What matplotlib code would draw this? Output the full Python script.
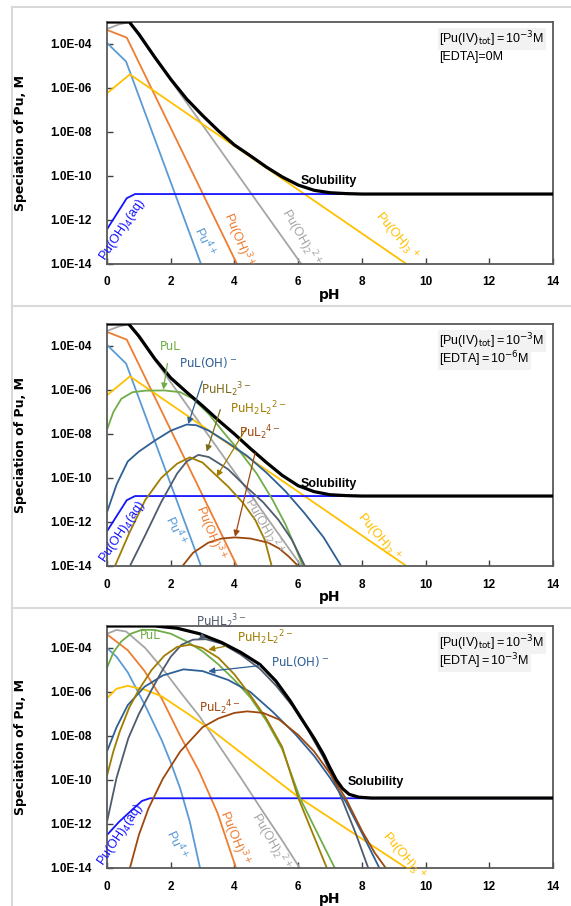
import numpy as np
import matplotlib.pyplot as plt
from matplotlib.ticker import FixedLocator, FuncFormatter, NullLocator
from matplotlib.lines import Line2D

# values: pH and log10 of concentration [M]

# ---- panel 1 / 2 : inorganic Pu species (same in both panels)
pu4_ph = [0, 0.6, 2.95]
pu4_log = [-3.95, -4.8, -14]
puoh_ph = [0, 0.62, 4.08]
puoh_log = [-3.36, -3.71, -14]
puoh2_ph = [0, 0.35, 0.7, 6.1]
puoh2_log = [-3.32, -3.12, -3.0, -14]
puoh3_ph = [0, 0.72, 9.4]
puoh3_log = [-6.24, -5.38, -14]
puoh4_ph = [0, 0.62, 0.88, 14]
puoh4_log = [-12.42, -11.01, -10.82, -10.82]

# ---- panel 1 : solubility, EDTA = 0
sol1_ph = [0, 0.7, 1.0, 1.5, 2.0, 2.5, 3.0, 3.5, 4.0, 4.5, 5.0, 5.5, 6.0, 6.5, 7.0, 7.5, 8.0, 14]
sol1_log = [-3, -3, -3.55, -4.6, -5.6, -6.5, -7.25, -7.95, -8.59, -9.08, -9.59, -10.04, -10.41,
            -10.65, -10.76, -10.8, -10.82, -10.82]

# ---- panel 2 : EDTA = 1e-6 M
sol2_ph = [0, 0.68, 1.0, 1.5, 2.0, 2.5, 3.0, 3.5, 4.0, 4.5, 5.0, 5.5, 6.0, 6.5, 7.0, 7.5, 8.0, 14]
sol2_log = [-3, -3, -3.55, -4.58, -5.45, -6.1, -6.72, -7.38, -8.0, -8.66, -9.29, -9.88, -10.35,
            -10.62, -10.76, -10.8, -10.82, -10.82]
pul2_ph = [0, 0.2, 0.45, 0.8, 1.2, 1.8, 2.3, 2.7, 3.2, 3.7, 4.2, 4.7, 5.2, 5.6, 5.9, 6.15]
pul2_log = [-7.8, -7.0, -6.4, -6.1, -6.03, -6.02, -6.1, -6.4, -7.1, -8.0, -8.85, -9.8, -11.0,
            -12.1, -13.1, -14]
puloh2_ph = [0, 0.3, 0.65, 1.0, 1.5, 2.0, 2.5, 2.8, 3.2, 3.8, 4.4, 5.0, 5.6, 6.2, 6.8, 7.35]
puloh2_log = [-11.55, -10.3, -9.25, -8.8, -8.3, -7.85, -7.57, -7.6, -7.85, -8.4, -9.0, -9.75,
              -10.6, -11.6, -12.7, -14]
puhl2_ph = [0.72, 1.2, 1.7, 2.2, 2.5, 2.87, 3.2, 3.8, 4.33, 4.9, 5.38, 5.8, 6.21]
puhl2_log = [-14, -12.6, -11.1, -9.8, -9.25, -8.95, -9.05, -9.6, -10.35, -11.1, -11.9, -12.8, -14]
puh2l2_ph = [0.25, 0.7, 1.2, 1.7, 2.2, 2.6, 3.0, 3.44, 3.81, 4.25, 4.65, 4.95, 5.17]
puh2l2_log = [-14, -12.5, -11.0, -10.0, -9.35, -9.06, -9.3, -9.9, -10.4, -11.1, -11.9, -12.8, -14]
pul22_ph = [2.37, 2.7, 3.18, 3.6, 4.02, 4.5, 5.06, 5.4, 5.69, 6.0]
pul22_log = [-14, -13.4, -12.94, -12.75, -12.7, -12.75, -12.94, -13.2, -13.55, -14]

# ---- panel 3 : EDTA = 1e-3 M
sol3_ph = [0, 1.5, 2.2, 2.9, 3.6, 4.2, 4.8, 5.3, 5.75, 6.1, 6.5, 6.8, 7.0, 7.2, 7.4, 7.6, 7.9, 8.3, 14]
sol3_log = [-3, -3.0, -3.1, -3.35, -3.75, -4.2, -4.75, -5.5, -6.4, -7.2, -8.1, -8.85, -9.45,
            -10.0, -10.4, -10.65, -10.78, -10.82, -10.82]
pu4_3_ph = [0, 0.3, 0.65, 1.2, 1.72, 2.0, 2.3, 2.6, 2.92]
pu4_3_log = [-4.0, -4.4, -5.1, -6.62, -8.2, -9.2, -10.4, -11.9, -14]
puoh_3_ph = [0, 0.65, 1.18, 1.72, 2.3, 2.89, 3.47, 4.05]
puoh_3_log = [-3.38, -4.1, -5.05, -6.3, -8.0, -9.6, -11.5, -14]
puoh2_3_ph = [0, 0.3, 0.6, 1.2, 1.75, 2.3, 2.9, 3.5, 4.2, 4.9, 5.5, 6.05]
puoh2_3_log = [-3.35, -3.18, -3.25, -4.0, -4.95, -6.0, -7.1, -8.4, -9.9, -11.45, -12.75, -14]
puoh3_3_ph = [0, 0.3, 0.65, 1.2, 1.72, 2.55, 3.3, 6.06, 9.4]
puoh3_3_log = [-6.28, -5.85, -5.72, -5.9, -6.2, -7.0, -7.75, -10.83, -14]
puoh4_3_ph = [0, 0.38, 0.83, 1.1, 1.35, 14]
puoh4_3_log = [-12.5, -11.9, -11.3, -10.95, -10.83, -10.83]
pul3_ph = [0, 0.2, 0.45, 0.75, 1.1, 1.5, 2.0, 2.5, 3.0, 3.5, 4.0, 4.5, 5.0, 5.5, 6.06, 6.6, 7.15]
pul3_log = [-4.9, -4.2, -3.7, -3.35, -3.17, -3.18, -3.35, -3.7, -4.15, -4.75, -5.45, -6.25,
            -7.3, -8.6, -10.83, -12.4, -14]
puloh3_ph = [0, 0.3, 0.65, 1.18, 1.75, 2.4, 3.0, 3.8, 4.5, 5.2, 5.9, 6.5, 7.0, 7.5, 8.0, 8.55]
puloh3_log = [-8.7, -7.6, -6.6, -5.76, -5.25, -4.97, -5.05, -5.45, -6.0, -6.9, -7.9, -8.9, -9.9,
              -11.0, -12.4, -14]
puhl3_ph = [0, 0.3, 0.67, 1.0, 1.4, 1.72, 2.0, 2.34, 2.7, 3.1, 3.6, 4.2, 4.8, 5.3, 5.8, 6.3,
            6.8, 7.3, 7.8, 8.2]
puhl3_log = [-11.9, -9.9, -8.1, -7.0, -5.9, -5.06, -4.4, -3.85, -3.62, -3.6, -3.8, -4.3, -4.95,
             -5.7, -6.6, -7.7, -9.0, -10.6, -12.4, -14]
puh2l3_ph = [0, 0.2, 0.4, 0.7, 1.0, 1.4, 1.8, 2.2, 2.6, 3.0, 3.5, 4.0, 4.5, 5.0, 5.5, 6.0, 6.45, 6.9]
puh2l3_log = [-9.8, -8.7, -7.8, -6.7, -5.9, -5.0, -4.35, -3.95, -3.85, -4.0, -4.45, -5.2, -6.15,
              -7.2, -8.5, -10.8, -12.4, -14]
pul23_ph = [0.72, 1.0, 1.3, 1.75, 2.3, 3.0, 3.5, 4.0, 4.4, 4.9, 5.4, 6.0, 6.5, 7.0, 7.5, 8.0, 8.4, 8.75]
pul23_log = [-14, -12.5, -11.3, -9.95, -8.7, -7.6, -7.2, -6.95, -6.88, -6.95, -7.25, -7.95, -8.7,
             -9.7, -10.85, -12.3, -13.3, -14]

ytick_vals = [1e-4, 1e-6, 1e-8, 1e-10, 1e-12, 1e-14]
xtick_vals = [0, 2, 4, 6, 8, 10, 12, 14]

C_PU4 = '#5B9BD5'
C_PUOH = '#ED7D31'
C_PUOH2 = '#A5A5A5'
C_PUOH3 = '#FFC000'
C_PUOH4 = '#1414FF'
C_PUL = '#70AD47'
C_PULOH = '#2E6095'
C_PUHL = '#4F5B6E'
C_PUH2L = '#A07D00'
C_PUL2 = '#9E480E'

NARROW = 'Liberation Sans'


def curve(ax, ph, lg, color, lw=1.3, z=2):
    ax.plot(ph, 10.0 ** np.array(lg), color=color, lw=lw, zorder=z, solid_capstyle='butt')


def tag(ax, x, lg, s, color, rot=0, size=9, family=NARROW, weight='normal'):
    ax.text(x, 10.0 ** lg, s, color=color, rotation=rot, fontsize=size, family=family,
            weight=weight, ha='center', va='center', rotation_mode='anchor', clip_on=False, zorder=6)


def arrow(ax, s, xy_text, xy_head, color, size=8.5):
    ax.annotate(s, xy=(xy_head[0], 10.0 ** xy_head[1]), xytext=(xy_text[0], 10.0 ** xy_text[1]),
                color=color, fontsize=size, family='DejaVu Sans', ha='center', va='center',
                annotation_clip=False, zorder=6,
                arrowprops=dict(arrowstyle='-|>', color=color, lw=0.9, mutation_scale=9,
                                shrinkA=6, shrinkB=0))


def setup(ax, line1, line2, boxed_both=True):
    ax.set_yscale('log')
    ax.set_xlim(0, 14)
    ax.set_ylim(1e-14, 1e-3)
    ax.xaxis.set_major_locator(FixedLocator(xtick_vals))
    ax.yaxis.set_major_locator(FixedLocator(ytick_vals))
    ax.yaxis.set_minor_locator(NullLocator())
    ax.yaxis.set_major_formatter(FuncFormatter(lambda v, p: f'{v:.1E}'))
    ax.tick_params(direction='in', length=4, width=1, color='#404040')
    ax.tick_params(axis='x', pad=9)
    ax.tick_params(axis='y', pad=11)
    for lab in ax.get_xticklabels() + ax.get_yticklabels():
        lab.set_family('Liberation Sans')
        lab.set_fontweight('bold')
        lab.set_fontsize(8.5)
    for sp in ax.spines.values():
        sp.set_color('#595959')
        sp.set_linewidth(1.3)
    ax.set_xlabel('pH', fontsize=10, fontweight='bold', family='DejaVu Sans')
    ax.xaxis.set_label_coords(0.5, -0.1)
    ax.set_ylabel('Speciation of Pu, M', fontsize=9, fontweight='bold', family='DejaVu Sans')
    ax.yaxis.set_label_coords(-0.18, 0.5)
    ax.text(0.745, 0.93, line1, transform=ax.transAxes, fontsize=9, family=NARROW,
            va='center', ha='left', zorder=7,
            bbox=dict(boxstyle='square,pad=0.12', fc='#F2F2F2', ec='none'))
    ax.text(0.745, 0.855, line2, transform=ax.transAxes, fontsize=9, family=NARROW,
            va='center', ha='left', zorder=7,
            bbox=dict(boxstyle='square,pad=0.12', fc='#F2F2F2' if boxed_both else 'none', ec='none'))


def inorganic_labels(ax, pos):
    tag(ax, pos[0][0], pos[0][1], r'Pu(OH)$_4$(aq)', C_PUOH4, 56, 9)
    tag(ax, pos[1][0], pos[1][1], r'Pu$^{4+}$', C_PU4, -65, 9)
    tag(ax, pos[2][0], pos[2][1], r'Pu(OH)$^{3+}$', C_PUOH, -68, 9)
    tag(ax, pos[3][0], pos[3][1], r'Pu(OH)$_2$$^{2+}$', C_PUOH2, -60, 9)
    tag(ax, pos[4][0], pos[4][1], r'Pu(OH)$_3$$^+$', C_PUOH3, -50, 9)
    tag(ax, pos[5][0], pos[5][1], 'Solubility', 'black', 0, 9, weight='bold')


fig = plt.figure(figsize=(5.71, 9.06), dpi=100)

# light grey panel frames
def fline(x0, y0, x1, y1):
    fig.add_artist(Line2D([x0 / 571, x1 / 571], [1 - y0 / 906, 1 - y1 / 906],
                          color='#D9D9D9', lw=1.5, transform=fig.transFigure))

fline(12, 7, 12, 906)
fline(12, 7, 571, 7)
fline(12, 306, 571, 306)
fline(12, 608, 571, 608)

W = 446 / 571
H = 242 / 906
ax1 = fig.add_axes([107 / 571, 1 - 264 / 906, W, H])
ax2 = fig.add_axes([107 / 571, 1 - 566 / 906, W, H])
ax3 = fig.add_axes([107 / 571, 1 - 868 / 906, W, H])

HEAD = r'[Pu(IV)$_{\rm tot}$]$\,$=$\,$10$^{-3}$M'

# ---- panel 1
setup(ax1, HEAD, '[EDTA]=0M', boxed_both=False)
curve(ax1, pu4_ph, pu4_log, C_PU4)
curve(ax1, puoh_ph, puoh_log, C_PUOH)
curve(ax1, puoh2_ph, puoh2_log, C_PUOH2)
curve(ax1, puoh3_ph, puoh3_log, C_PUOH3)
curve(ax1, puoh4_ph, puoh4_log, C_PUOH4)
curve(ax1, sol1_ph, sol1_log, 'black', lw=2.3, z=3)
inorganic_labels(ax1, [(0.5, -12.45), (3.08, -13.0), (4.12, -12.9), (6.06, -12.8),
                       (9.07, -12.75), (6.95, -10.25)])

# ---- panel 2
setup(ax2, HEAD, r'[EDTA]$\,$=$\,$10$^{-6}$M')
curve(ax2, pu4_ph, pu4_log, C_PU4)
curve(ax2, puoh_ph, puoh_log, C_PUOH)
curve(ax2, puoh2_ph, puoh2_log, C_PUOH2)
curve(ax2, puoh3_ph, puoh3_log, C_PUOH3)
curve(ax2, puoh4_ph, puoh4_log, C_PUOH4)
curve(ax2, pul2_ph, pul2_log, C_PUL)
curve(ax2, puloh2_ph, puloh2_log, C_PULOH)
curve(ax2, puhl2_ph, puhl2_log, C_PUHL)
curve(ax2, puh2l2_ph, puh2l2_log, C_PUH2L)
curve(ax2, pul22_ph, pul22_log, C_PUL2)
curve(ax2, sol2_ph, sol2_log, 'black', lw=2.3, z=3)
inorganic_labels(ax2, [(0.5, -12.45), (2.15, -12.4), (3.24, -12.5), (4.9, -12.2),
                       (8.5, -12.7), (6.95, -10.25)])
arrow(ax2, 'PuL', (1.98, -4.0), (1.77, -5.98), C_PUL)
arrow(ax2, r'PuL(OH)$^-$', (3.18, -4.77), (2.55, -7.55), C_PULOH)
arrow(ax2, r'PuHL$_2$$^{3-}$', (3.76, -5.98), (3.13, -8.8), '#7F6A1A')
arrow(ax2, r'PuH$_2$L$_2$$^{2-}$', (4.75, -6.85), (3.44, -9.94), C_PUH2L)
arrow(ax2, r'PuL$_2$$^{4-}$', (4.8, -7.95), (4.02, -12.67), C_PUL2)

# ---- panel 3
setup(ax3, HEAD, r'[EDTA]$\,$=$\,$10$^{-3}$M')
curve(ax3, pu4_3_ph, pu4_3_log, C_PU4)
curve(ax3, puoh_3_ph, puoh_3_log, C_PUOH)
curve(ax3, puoh2_3_ph, puoh2_3_log, C_PUOH2)
curve(ax3, puoh3_3_ph, puoh3_3_log, C_PUOH3)
curve(ax3, puoh4_3_ph, puoh4_3_log, C_PUOH4)
curve(ax3, pul3_ph, pul3_log, C_PUL)
curve(ax3, puloh3_ph, puloh3_log, C_PULOH)
curve(ax3, puhl3_ph, puhl3_log, C_PUHL)
curve(ax3, puh2l3_ph, puh2l3_log, C_PUH2L)
curve(ax3, pul23_ph, pul23_log, C_PUL2)
curve(ax3, sol3_ph, sol3_log, 'black', lw=2.3, z=3)
inorganic_labels(ax3, [(0.43, -12.5), (2.2, -12.95), (3.98, -12.65), (5.12, -12.8),
                       (9.3, -13.5), (8.44, -10.1)])
tag(ax3, 1.35, -3.42, 'PuL', C_PUL, 0, 8.5, family='DejaVu Sans')
tag(ax3, 3.55, -6.73, r'PuL$_2$$^{4-}$', C_PUL2, 0, 8.5, family='DejaVu Sans')
arrow(ax3, r'PuHL$_2$$^{3-}$', (3.6, -2.82), (2.87, -3.62), C_PUHL)
arrow(ax3, r'PuH$_2$L$_2$$^{2-}$', (4.95, -3.55), (3.18, -4.08), C_PUH2L)
arrow(ax3, r'PuL(OH)$^-$', (6.05, -4.6), (3.18, -5.06), C_PULOH)

fig.savefig('out.png', dpi=100)
